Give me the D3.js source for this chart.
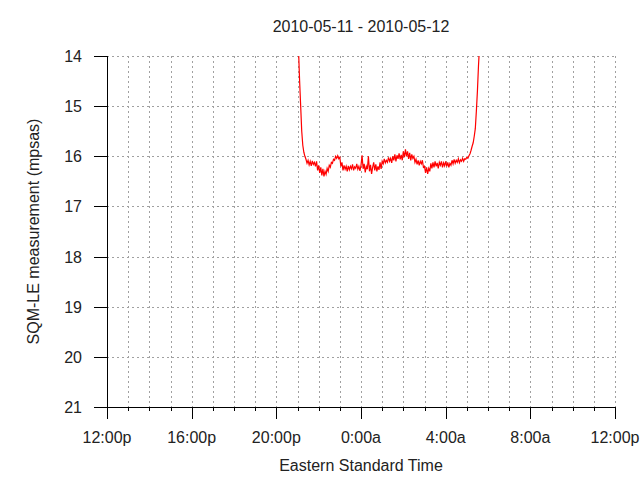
<!DOCTYPE html>
<html><head><meta charset="utf-8">
<script src="https://cdn.jsdelivr.net/npm/d3@7"></script>
<style>
body{margin:0;background:#fff;}
text{font-family:"Liberation Sans",Arial,sans-serif;fill:#222;}
</style></head>
<body><svg id="c" width="640" height="480"></svg>
<script>
const titleText = "2010-05-11 - 2010-05-12";
const xAxisTitle = "Eastern Standard Time";
const yAxisTitle = "SQM-LE measurement (mpsas)";
const xTickLabels = ["12:00p","16:00p","20:00p","0:00a","4:00a","8:00a","12:00p"];
const yTicks = [14,15,16,17,18,19,20,21];
const sampleStart = "2010-05-11T21:00:00";
const sampleStepMinutes = 3;
const sqm = [
 13.2,13.9,14.5,15.0,15.5,15.78,15.92,16.0,16.06,16.14,16.08,16.17,16.1,16.19,16.09,16.16,16.12,16.2,16.1,16.28,
 16.18,16.33,16.22,16.38,16.25,16.4,16.3,16.36,16.24,16.3,16.18,16.22,16.12,16.14,16.06,16.08,16.0,16.04,15.99,16.05,
 16.02,16.2,16.12,16.28,16.18,16.26,16.2,16.3,16.19,16.27,16.2,16.25,16.16,16.28,16.21,16.24,16.15,16.26,16.2,16.29,
 16.18,15.98,16.25,16.15,16.32,16.2,16.26,16.0,16.3,16.17,16.35,16.22,16.12,16.28,16.16,16.3,16.2,16.27,16.12,16.25,
 16.1,16.15,16.05,16.13,16.08,16.12,16.02,16.1,16.04,16.13,16.0,16.08,15.96,16.1,15.98,16.05,15.94,16.06,15.97,16.08,
 15.9,16.02,15.86,16.0,15.9,16.05,15.93,16.08,15.96,16.04,16.0,16.12,16.06,16.16,16.08,16.18,16.1,16.15,16.08,16.22,
 16.2,16.33,16.22,16.35,16.24,16.3,16.14,16.24,16.12,16.22,16.1,16.2,16.13,16.24,16.12,16.18,16.1,16.22,16.13,16.19,
 16.1,16.2,16.12,16.22,16.14,16.18,16.08,16.15,16.06,16.14,16.08,16.12,16.05,16.13,16.07,16.1,16.04,16.1,16.05,16.06,
 16.02,16.04,15.99,15.95,15.88,15.8,15.73,15.6,15.45,15.1,14.7,14.2,13.8,13.3
];

const svg = d3.select("#c");
const L = 107, R = 615, T = 56, B = 407;
const t0 = new Date(2010,4,11,12,0), t1 = new Date(2010,4,12,12,0);
const x = d3.scaleTime().domain([t0,t1]).range([L,R]);
const y = d3.scaleLinear().domain([14,21]).range([T,B]);
const start = new Date(sampleStart);
const data = sqm.map((v,i)=>({t:new Date(start.getTime()+i*sampleStepMinutes*60000), v}));
const hours = d3.timeHour.range(t0, d3.timeHour.offset(t1,1));
const majors = d3.timeHour.every(4).range(t0, d3.timeHour.offset(t1,1));
const px = v => Math.round(v)+0.5;

// grid
const g = svg.append("g").attr("stroke","#a0a0a0").attr("stroke-dasharray","2,3").attr("stroke-width",1);
hours.slice(1).forEach(h=>{
  g.append("line").attr("x1",px(x(h))).attr("x2",px(x(h))).attr("y1",T).attr("y2",B);
});
yTicks.slice(0,-1).forEach(v=>{
  g.append("line").attr("x1",L).attr("x2",R).attr("y1",px(y(v))).attr("y2",px(y(v)));
});

// data line
svg.append("clipPath").attr("id","clip").append("rect").attr("x",L).attr("y",T).attr("width",R-L).attr("height",B-T);
svg.append("path").datum(data).attr("clip-path","url(#clip)")
  .attr("fill","none").attr("stroke","#ff0000").attr("stroke-width",1.2)
  .attr("d", d3.line().x(d=>x(d.t)).y(d=>y(d.v)));

// axes
const ax = svg.append("g").attr("stroke","#000").attr("stroke-width",1);
ax.append("line").attr("x1",px(L)).attr("x2",px(L)).attr("y1",T).attr("y2",B+12);
ax.append("line").attr("x1",L).attr("x2",R+1).attr("y1",px(B)).attr("y2",px(B));
hours.forEach(h=>{
  const isMajor = majors.some(m=>+m===+h);
  ax.append("line").attr("x1",px(x(h))).attr("x2",px(x(h))).attr("y1",B).attr("y2",B+(isMajor?12:4));
});
yTicks.forEach(v=>{
  ax.append("line").attr("x1",L-13).attr("x2",L).attr("y1",px(y(v))).attr("y2",px(y(v)));
});

// labels
majors.forEach((m,i)=>{
  svg.append("text").attr("x",x(m)).attr("y",443).attr("text-anchor","middle")
    .attr("font-size",16).text(xTickLabels[i]);
});
yTicks.forEach(v=>{
  svg.append("text").attr("x",82).attr("y",y(v)+6).attr("text-anchor","end")
    .attr("font-size",16).text(v);
});
svg.append("text").attr("x",(L+R)/2).attr("y",32).attr("text-anchor","middle").attr("font-size",16).text(titleText);
svg.append("text").attr("x",(L+R)/2).attr("y",471).attr("text-anchor","middle").attr("font-size",16).text(xAxisTitle);
svg.append("text").attr("transform",`translate(39,${(T+B)/2}) rotate(-90)`).attr("text-anchor","middle").attr("font-size",16).text(yAxisTitle);
</script></body></html>
